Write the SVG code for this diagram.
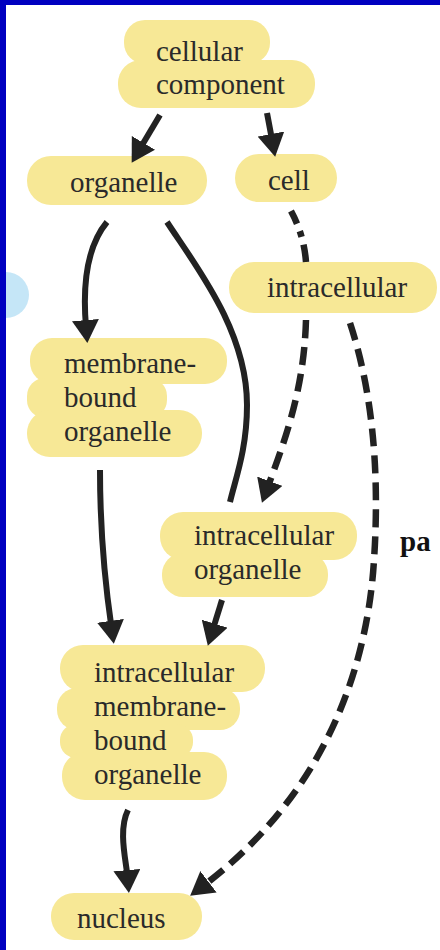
<svg xmlns="http://www.w3.org/2000/svg" width="440" height="950" viewBox="0 0 440 950">
<style>
.blob{fill:#F7E896}
.lbl{font-family:"Liberation Serif","Times New Roman",serif;font-size:29px;fill:#2a2a2a}
.edge{fill:none;stroke:#222;stroke-width:6}
.dash{stroke-width:6.5;stroke-dasharray:18 9}
</style>
<defs>
<marker id="ah" viewBox="0 0 10 10" refX="3" refY="5" markerUnits="userSpaceOnUse" markerWidth="23" markerHeight="27" orient="auto" preserveAspectRatio="none">
<path d="M0,0 L10,5 L0,10 z" fill="#222"/>
</marker>
</defs>
<rect width="440" height="950" fill="#fff"/>
<circle cx="6" cy="295" r="23" fill="#C5E6F7"/>
<rect x="0" y="0" width="440" height="5" fill="#0000C0"/>
<rect x="0" y="0" width="6" height="950" fill="#0000C0"/>

<g id="n-cellular-component">
<rect class="blob" x="124" y="20" width="146" height="44" rx="21"/>
<rect class="blob" x="118" y="60" width="197" height="48" rx="23"/>
<text class="lbl" x="156" y="61">cellular</text>
<text class="lbl" x="156" y="94">component</text>
</g>
<g id="n-organelle">
<rect class="blob" x="27" y="156" width="180" height="49" rx="24"/>
<text class="lbl" x="70" y="192">organelle</text>
</g>
<g id="n-cell">
<rect class="blob" x="235" y="154" width="102" height="48" rx="24"/>
<text class="lbl" x="268" y="190">cell</text>
</g>
<g id="n-intracellular">
<rect class="blob" x="229" y="262" width="208" height="51" rx="25"/>
<text class="lbl" x="267" y="297">intracellular</text>
</g>
<g id="n-membrane-bound-organelle">
<rect class="blob" x="30" y="338" width="197" height="46" rx="22"/>
<rect class="blob" x="27" y="378" width="140" height="40" rx="18"/>
<rect class="blob" x="27" y="410" width="175" height="47" rx="23"/>
<text class="lbl" x="64" y="373">membrane-</text>
<text class="lbl" x="64" y="407">bound</text>
<text class="lbl" x="64" y="441">organelle</text>
</g>
<g id="n-intracellular-organelle">
<rect class="blob" x="160" y="512" width="197" height="48" rx="23"/>
<rect class="blob" x="162" y="553" width="166" height="44" rx="21"/>
<text class="lbl" x="194" y="545">intracellular</text>
<text class="lbl" x="194" y="579">organelle</text>
</g>
<g id="n-intracellular-membrane-bound-organelle">
<rect class="blob" x="60" y="645" width="205" height="47" rx="23"/>
<rect class="blob" x="57" y="688" width="183" height="42" rx="20"/>
<rect class="blob" x="60" y="724" width="133" height="34" rx="16"/>
<rect class="blob" x="62" y="752" width="165" height="48" rx="23"/>
<text class="lbl" x="94" y="682">intracellular</text>
<text class="lbl" x="94" y="716">membrane-</text>
<text class="lbl" x="94" y="750">bound</text>
<text class="lbl" x="94" y="784">organelle</text>
</g>
<g id="n-nucleus">
<rect class="blob" x="51" y="893" width="151" height="47" rx="23"/>
<text class="lbl" x="77" y="928">nucleus</text>
</g>

<g id="connectors">
<path class="edge" d="M160,115 L139.9,148.8" marker-end="url(#ah)"/>
<path class="edge" d="M267,113 L272.2,140.8" marker-end="url(#ah)"/>
<path class="edge" d="M107,222 C88,245 82,280 86,327" marker-end="url(#ah)"/>
<path class="edge" d="M167,222 C195,265 247,330 247,405 C247,450 235,480 230,502"/>
<path class="edge dash" style="stroke-dasharray:14 8 6 8 20" d="M291,211 Q304,235 306,262"/>
<path class="edge dash" d="M306,320 C304,390 285,440 267.5,487.7" marker-end="url(#ah)"/>
<path class="edge dash" d="M350,323 C372,390 380,470 374,560 C368,660 330,790 203,886" marker-end="url(#ah)"/>
<path class="edge" d="M100,470 C100,540 106,590 111.5,627.7" marker-end="url(#ah)"/>
<path class="edge" d="M222,600 L212.6,630.3" marker-end="url(#ah)"/>
<path class="edge" d="M128,810 C118,830 126,860 127.5,877" marker-end="url(#ah)"/>
</g>

<text x="400" y="551" style="font-family:'Liberation Serif','Times New Roman',serif;font-size:29px;font-weight:bold;fill:#111">pa</text>
</svg>
